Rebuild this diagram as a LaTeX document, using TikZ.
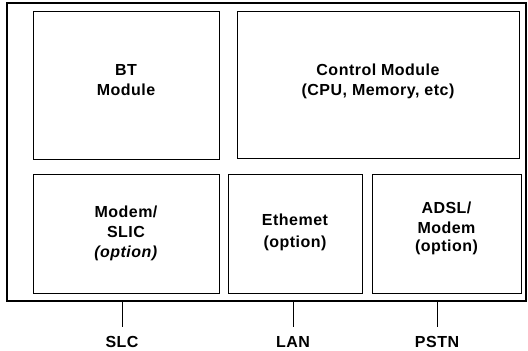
\documentclass[tikz,border=0pt]{standalone}
\usepackage{fontspec}
\setmainfont{Liberation Sans}[LetterSpace=3]
\usepackage{tikz}

\tikzset{
    modbox/.style = {draw, line width=1pt, align=center, inner sep=0pt,
                     font=\fontsize{16}{20}\selectfont\bfseries},
    portlbl/.style = {font=\fontsize{16}{20}\selectfont\bfseries, inner sep=1pt}
}

\begin{document}
\begin{tikzpicture}[x=1pt, y=-1pt]
                \useasboundingbox (0,0) rectangle (528,351);

                % outer case
                \node [draw, line width=1.3pt, minimum width=519pt, minimum height=298pt,
                inner sep=0pt] (base) at (266.5,152) {};

                % upper row
                \node [modbox, minimum width=186pt, minimum height=148pt] (bt) at (126,85)
                {BT\\Module\\[-10pt]\mbox{}};
                \node [modbox, minimum width=282pt, minimum height=147pt] (ctrl) at (378,85)
                {Control Module\\(CPU, Memory, etc)\\[-10pt]\mbox{}};

                % lower row
                \node [modbox, minimum width=186pt, minimum height=119pt] (slic) at (126,233.5)
                {Modem/\\SLIC\\\textit{(option)}};
                \node [modbox, minimum width=134pt, minimum height=119pt] (eth) at (295,233.5)
                {Ethemet\\[2pt](option)\\[-14pt]\mbox{}};
                \node [modbox, minimum width=149pt, minimum height=119pt] (adsl) at (446.5,233.5)
                {ADSL/\\Modem\\[-2pt](option)\\[-6pt]\mbox{}};

                % external lines
                \node [portlbl] (slc) at (122,342) {SLC};
                \node [portlbl] (lan) at (293,342) {LAN};
                \node [portlbl] (pstn) at (437,342) {PSTN};

                \draw [line width=1pt, shorten >=8pt] (base.south -| slc) -- (slc.north);
                \draw [line width=1pt, shorten >=8pt] (base.south -| lan) -- (lan.north);
                \draw [line width=1pt, shorten >=8pt] (base.south -| pstn) -- (pstn.north);
            \end{tikzpicture}
\end{document}
